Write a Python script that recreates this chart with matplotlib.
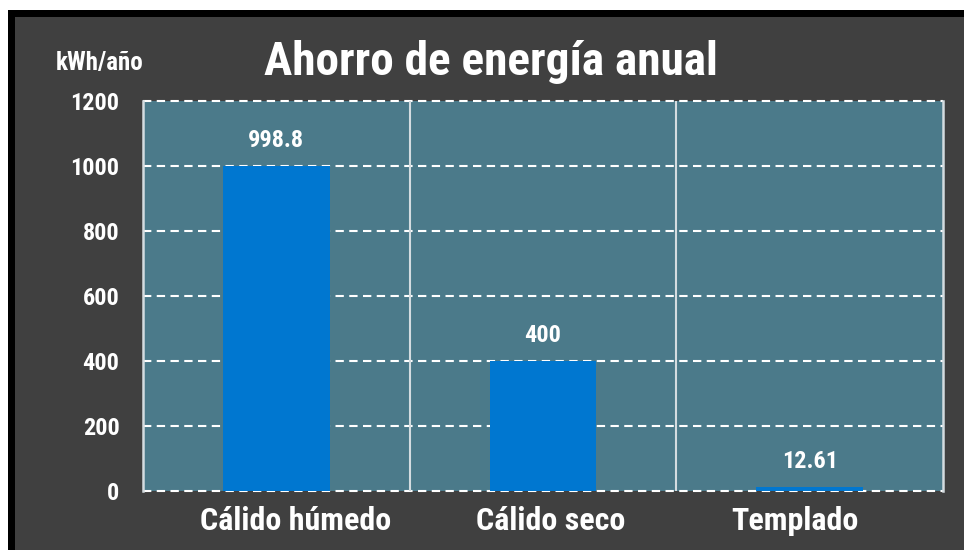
import matplotlib
matplotlib.use("Agg")
import matplotlib.pyplot as plt
from matplotlib import font_manager as fm
from matplotlib.patches import Rectangle
from matplotlib.transforms import ScaledTranslation

categories = ["Cálido húmedo", "Cálido seco", "Templado"]
values = [998.8, 400, 12.61]
value_labels = ["998.8", "400", "12.61"]
yticks = [0, 200, 400, 600, 800, 1000, 1200]
title = "Ahorro de energía anual"
unit_label = "kWh/año"

available = {f.name for f in fm.fontManager.ttflist}
font = "DejaVu Sans"
for cand in ["Liberation Sans Narrow", "Arial Narrow", "Roboto Condensed", "Archivo Narrow", "Liberation Sans"]:
    if cand in available:
        font = cand
        break
plt.rcParams["font.family"] = [font, "DejaVu Sans"]
plt.rcParams["font.weight"] = "bold"

W, H = 964, 550
fig = plt.figure(figsize=(W / 100, H / 100), dpi=100, facecolor="white")

# frame: black border and dark background
fig.patches.append(Rectangle((8, -50), 1100, H - 10 + 50, transform=None,
                             facecolor="black", edgecolor="none", zorder=-10))
fig.patches.append(Rectangle((15, -50), 1100, H - 17 + 50, transform=None,
                             facecolor="#404040", edgecolor="none", zorder=-9))

ax = fig.add_axes([143 / W, (H - 491) / H, (943 - 143) / W, (491 - 101) / H])
ax.set_facecolor("#4b7a8a")

x = list(range(len(categories)))
bars = ax.bar(x, values, width=0.4, color="#0077d0", zorder=2)

ax.set_xlim(-0.5, len(categories) - 0.5)
ax.set_ylim(0, 1200)
ax.set_yticks(yticks)
ax.set_yticklabels([str(t) for t in yticks])
ax.set_xticks(x)
ax.set_xticklabels(categories)

for t in yticks:
    ax.axhline(t, color="white", lw=1.5, linestyle=(0, (4, 2.6)), zorder=1, clip_on=False)
for sep in [0.5, 1.5]:
    ax.axvline(sep, color="#d4dce0", lw=1.5, zorder=1.5)

for s in ["top", "bottom"]:
    ax.spines[s].set_visible(False)
for s in ["left", "right"]:
    ax.spines[s].set_color("#d4dce0")
    ax.spines[s].set_linewidth(1.8)

ax.tick_params(axis="both", length=0, colors="white")
ax.tick_params(axis="y", labelsize=17.5, pad=17)
ax.tick_params(axis="x", labelsize=23, pad=11)
for lab in ax.get_xticklabels() + ax.get_yticklabels():
    lab.set_fontweight("bold")

# slight horizontal shifts of category labels as in the original (pixels)
label_shift_px = [19, 8, -15]
for lab, dx in zip(ax.get_xticklabels(), label_shift_px):
    lab.set_transform(lab.get_transform() + ScaledTranslation(dx / 100, 0, fig.dpi_scale_trans))

for b, lab in zip(bars, value_labels):
    ax.annotate(lab, (b.get_x() + b.get_width() / 2, b.get_height()),
                xytext=(0, 18.5), textcoords="offset points",
                ha="center", va="center", color="white", fontsize=17.5, fontweight="bold")

fig.text(491 / W, (H - 62) / H, title, ha="center", va="center",
         color="white", fontsize=34, fontweight="bold")
fig.text(100 / W, (H - 63) / H, unit_label, ha="center", va="center",
         color="white", fontsize=18, fontweight="bold")

fig.savefig("out.png", dpi=100, facecolor="white")
